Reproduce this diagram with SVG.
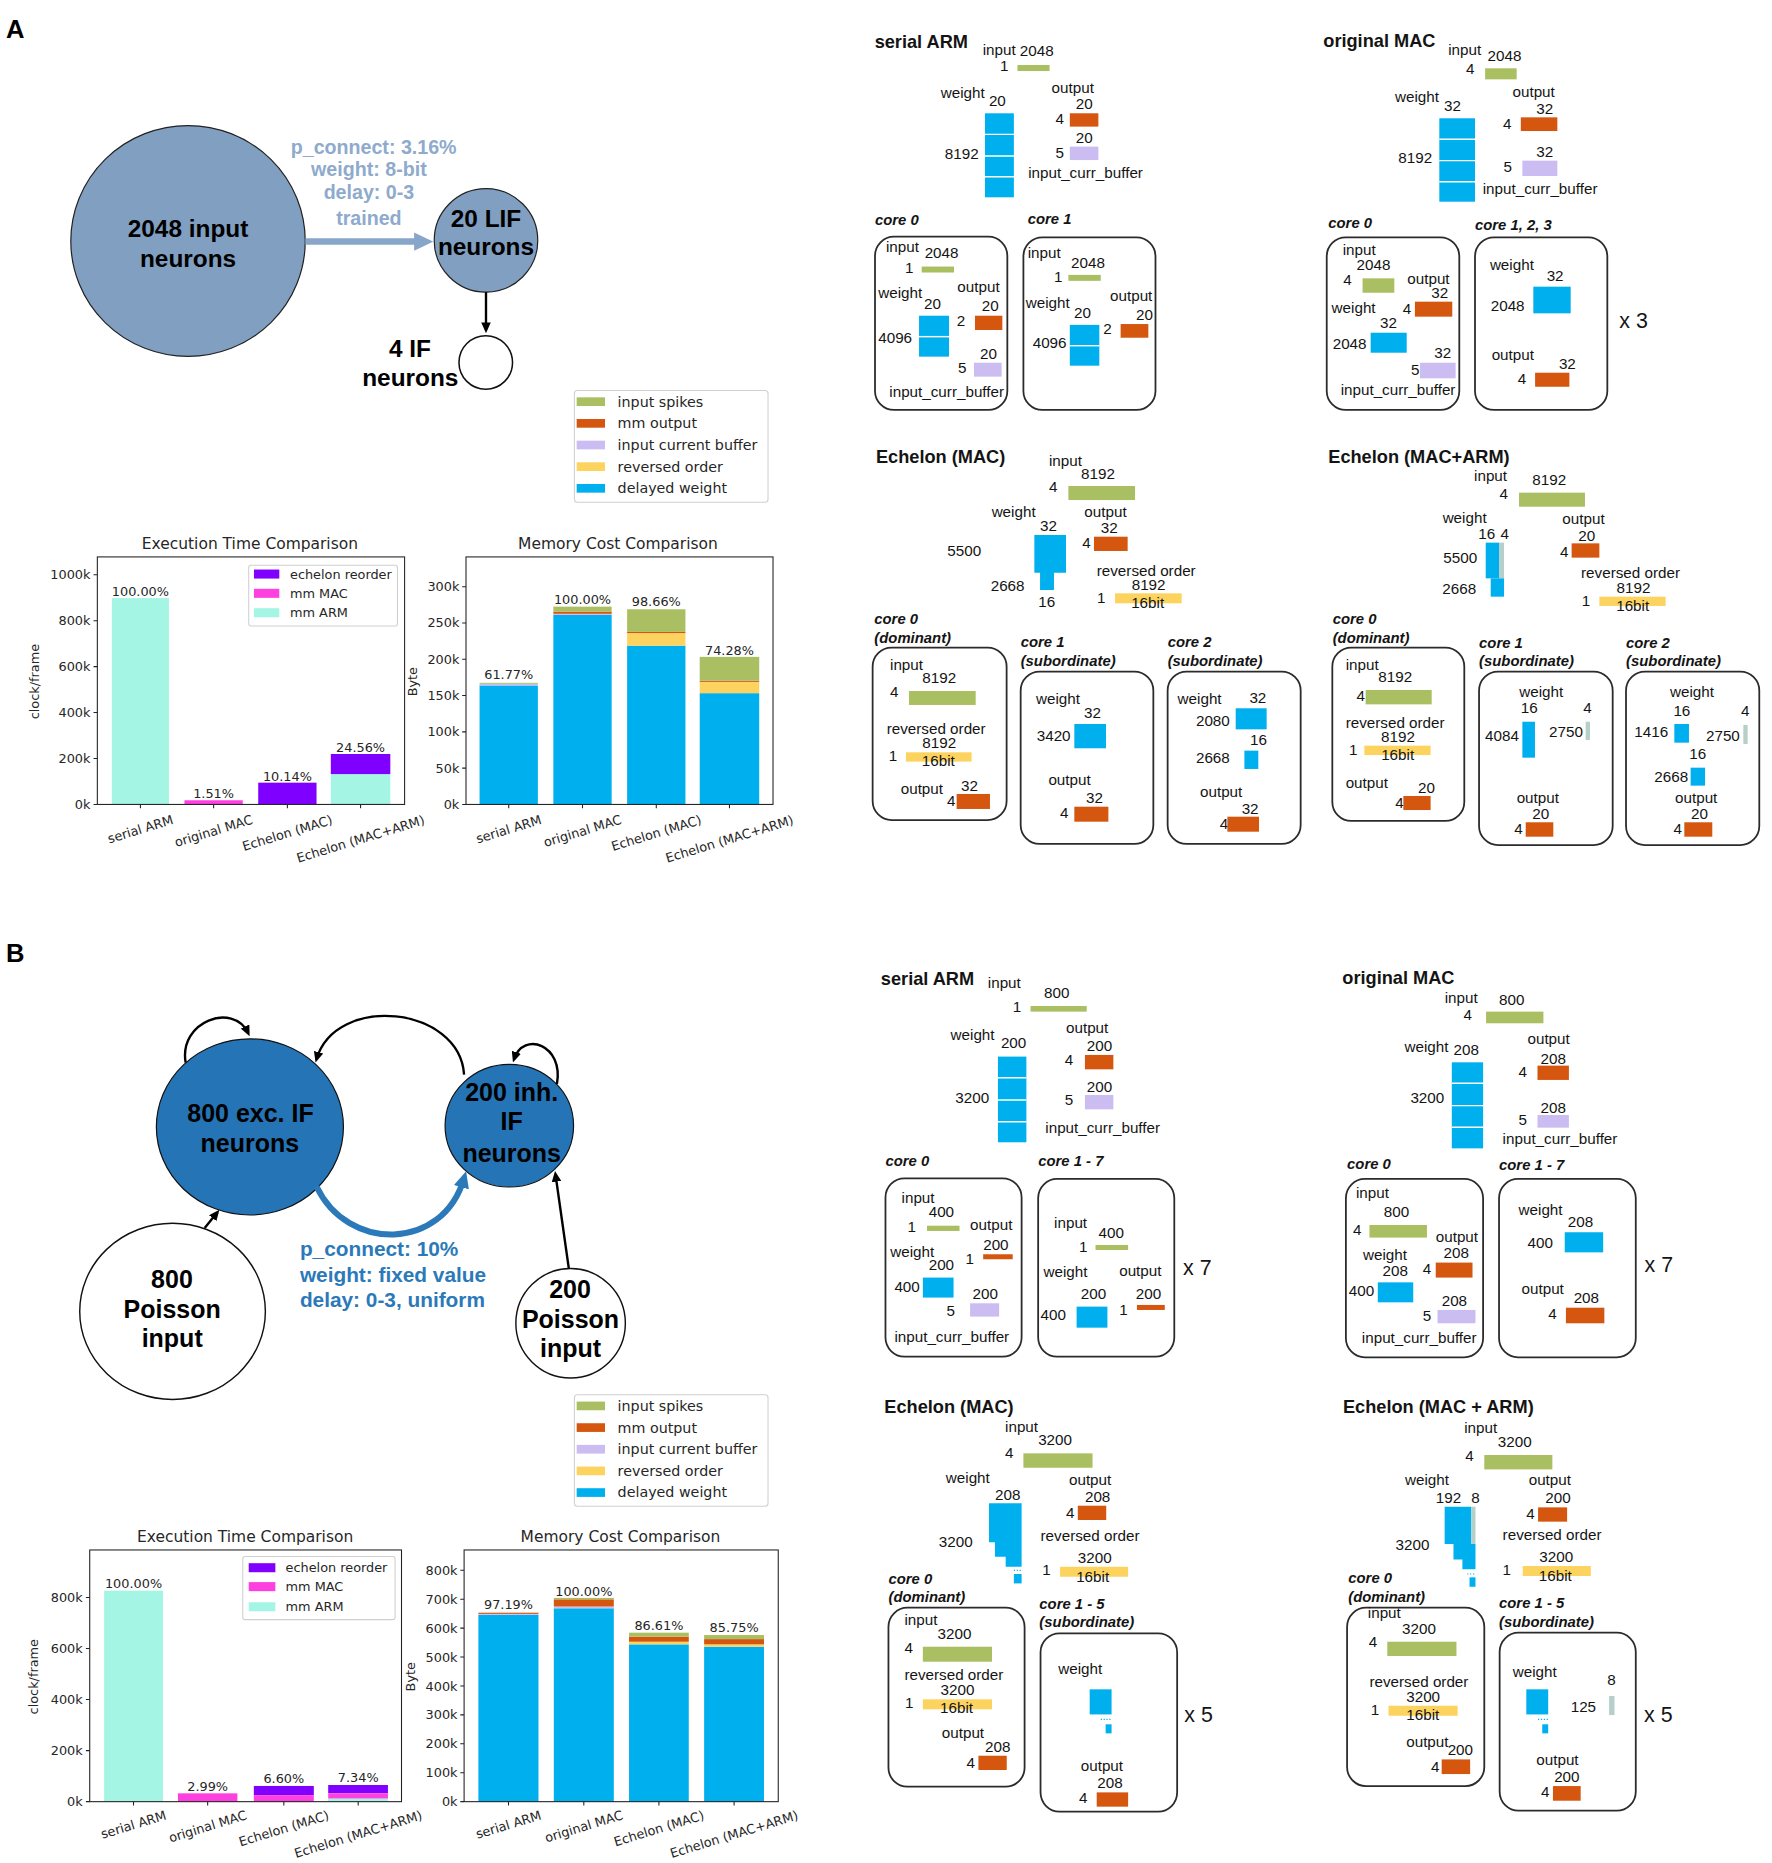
<svg xmlns="http://www.w3.org/2000/svg" width="1772" height="1863" viewBox="0 0 1772 1863">
<style>
text{font-family:"Liberation Sans",Arial,sans-serif;fill:#141414}
.t{font-size:12.8px}
.h{font-size:15.3px;font-weight:bold}
.c{font-size:12.5px;font-weight:bold;font-style:italic}
.x{font-size:18px}
.mid{text-anchor:middle}
.end{text-anchor:end}
.n{font-size:20.5px;font-weight:bold;text-anchor:middle;fill:#000}
.nb{font-size:21px;font-weight:bold;text-anchor:middle;fill:#000}
.pa{font-size:16.5px;font-weight:bold;text-anchor:middle;fill:#8eaacc}
.pb{font-size:17.5px;font-weight:bold;fill:#2b79b9}
.L{font-size:21.5px;font-weight:bold;fill:#000}
.m{font-family:"DejaVu Sans",sans-serif;font-size:10.8px;fill:#262626}
.mt{font-family:"DejaVu Sans",sans-serif;font-size:13px;fill:#262626;text-anchor:middle}
.lg{font-family:"DejaVu Sans",sans-serif;font-size:12px;fill:#262626}
.g{fill:#a9bf62}.o{fill:#d4560f}.l{fill:#cbbcf2}.y{fill:#fdd35f}.b{fill:#00b0ee}.gr{fill:#b6cfc9}
.aq{fill:#a5f5e5}.mg{fill:#ff40e0}.vi{fill:#7f00ff}
.box{fill:none;stroke:#2b2b2b;stroke-width:1.5}
.ax{fill:none;stroke:#222;stroke-width:0.9}
.tk{stroke:#222;stroke-width:0.9}
.lgbox{fill:#fff;stroke:#d0d0d0;stroke-width:0.9}
.sep{stroke:#fff;stroke-width:1.2}
.dot{stroke:#00b0ee;stroke-width:1;stroke-dasharray:1 1.4}
.k{fill:none;stroke:#000;stroke-width:2}
</style>
<defs>
<marker id="ahA" markerWidth="16" markerHeight="15.4" refX="4" refY="7.7" orient="auto" markerUnits="userSpaceOnUse"><path d="M0,0 L16,7.7 L0,15.4 z" fill="#87a6c9"/></marker>
<marker id="ahK" markerWidth="9" markerHeight="8" refX="6" refY="4" orient="auto" markerUnits="userSpaceOnUse"><path d="M0,0 L9,4 L0,8 z" fill="#000"/></marker>
<marker id="ahB" markerWidth="14" markerHeight="13" refX="8" refY="6.5" orient="auto" markerUnits="userSpaceOnUse"><path d="M0,0 L14,6.5 L0,13 z" fill="#2b79b9"/></marker>
</defs>
<rect width="1772" height="1863" fill="#fff"/>
<g transform="scale(1.19)">

<!-- ============ PANEL A : network ============ -->
<text class="L" x="5" y="32">A</text>
<g id="a-input">
<ellipse cx="158" cy="202.5" rx="98.5" ry="97" fill="#819fc1" stroke="#222" stroke-width="1"/>
<text class="n" x="158" y="199.4">2048 input</text>
<text class="n" x="158" y="224">neurons</text>
</g>
<g id="a-lif">
<circle cx="408.4" cy="202" r="43.5" fill="#819fc1" stroke="#222" stroke-width="1"/>
<text class="n" x="408.4" y="190.5">20 LIF</text>
<text class="n" x="408.4" y="214.3">neurons</text>
</g>
<g id="a-if">
<circle cx="408.2" cy="304.6" r="22.5" fill="#fff" stroke="#111" stroke-width="1.3"/>
<text class="n" x="344.5" y="299.7">4 IF</text>
<text class="n" x="344.8" y="324.1">neurons</text>
</g>
<g id="a-syn-label">
<text class="pa" x="314" y="129.4">p_connect: 3.16%</text>
<text class="pa" x="310" y="147.9">weight: 8-bit</text>
<text class="pa" x="310" y="167.5">delay: 0-3</text>
<text class="pa" x="310" y="189">trained</text>
</g>

<!-- ============ PANEL B : network ============ -->
<text class="L" x="5" y="808">B</text>
<g id="b-exc">
<ellipse cx="210" cy="947" rx="78.6" ry="74" fill="#2474b6" stroke="#111" stroke-width="1"/>
<text class="nb" x="210.5" y="942.6">800 exc. IF</text>
<text class="nb" x="210" y="967.8">neurons</text>
</g>
<g id="b-inh">
<ellipse cx="428" cy="946" rx="54" ry="51.5" fill="#2474b6" stroke="#111" stroke-width="1"/>
<text class="nb" x="430" y="925.2">200 inh.</text>
<text class="nb" x="430" y="949.6">IF</text>
<text class="nb" x="430" y="976.2">neurons</text>
</g>
<g id="b-p800">
<ellipse cx="145" cy="1102" rx="78" ry="74" fill="#fff" stroke="#111" stroke-width="1.2"/>
<text class="nb" x="144.5" y="1082">800</text>
<text class="nb" x="144.7" y="1107.8">Poisson</text>
<text class="nb" x="144.7" y="1131.7">input</text>
</g>
<g id="b-p200">
<ellipse cx="479.5" cy="1112" rx="46" ry="46" fill="#fff" stroke="#111" stroke-width="1.2"/>
<text class="nb" x="479" y="1091">200</text>
<text class="nb" x="479.4" y="1116.2">Poisson</text>
<text class="nb" x="479.4" y="1140">input</text>
</g>
<g id="b-syn-label">
<text class="pb" x="252" y="1055.5">p_connect: 10%</text>
<text class="pb" x="252" y="1077">weight: fixed value</text>
<text class="pb" x="252" y="1098.6">delay: 0-3, uniform</text>
</g>

<!-- ============ CONNECTORS ============ -->
<g id="connectors">
<path d="M256.6,203 H352" stroke="#87a6c9" stroke-width="5.5" fill="none" marker-end="url(#ahA)"/>
<path class="k" d="M408.4,245.5 V277" marker-end="url(#ahK)"/>
<path class="k" d="M156,893 C150,858 196,842 208.5,868" marker-end="url(#ahK)"/>
<path class="k" d="M390,903 C386,845 282,835 266,890" marker-end="url(#ahK)"/>
<path class="k" d="M468,911 C474,878 440,866 432,890" marker-end="url(#ahK)"/>
<path class="k" d="M172,1032 L182.5,1019" marker-end="url(#ahK)"/>
<path class="k" d="M478,1066 L466.8,987" marker-end="url(#ahK)"/>
<path d="M266,997 C292,1052 372,1052 390,990" stroke="#2b79b9" stroke-width="5" fill="none" marker-end="url(#ahB)"/>
</g>

<!-- ============ LEGENDS ============ -->
<g id="a-legend">
<rect class="lgbox" x="482.7" y="328.2" width="162.7" height="93.8" rx="2.5"/>
<rect class="g" x="484.6" y="333.9" width="23.8" height="7.3"/><text class="lg" x="519" y="341.7">input spikes</text>
<rect class="o" x="484.6" y="352.1" width="23.8" height="7.3"/><text class="lg" x="519" y="359.9">mm output</text>
<rect class="l" x="484.6" y="370.3" width="23.8" height="7.3"/><text class="lg" x="519" y="378.1">input current buffer</text>
<rect class="y" x="484.6" y="388.5" width="23.8" height="7.3"/><text class="lg" x="519" y="396.3">reversed order</text>
<rect class="b" x="484.6" y="406.7" width="23.8" height="7.3"/><text class="lg" x="519" y="414.5">delayed weight</text>
</g>
<g id="b-legend">
<rect class="lgbox" x="482.7" y="1172" width="162.7" height="93.8" rx="2.5"/>
<rect class="g" x="484.6" y="1177.8" width="23.8" height="7.3"/><text class="lg" x="519" y="1185.6">input spikes</text>
<rect class="o" x="484.6" y="1196" width="23.8" height="7.3"/><text class="lg" x="519" y="1203.8">mm output</text>
<rect class="l" x="484.6" y="1214.2" width="23.8" height="7.3"/><text class="lg" x="519" y="1222">input current buffer</text>
<rect class="y" x="484.6" y="1232.4" width="23.8" height="7.3"/><text class="lg" x="519" y="1240.2">reversed order</text>
<rect class="b" x="484.6" y="1250.6" width="23.8" height="7.3"/><text class="lg" x="519" y="1258.4">delayed weight</text>
</g>

<!-- ============ CHART A exec ============ -->
<g id="a-exec-chart">
<text class="mt" x="210" y="461.6">Execution Time Comparison</text>
<rect class="aq" x="94" y="502.6" width="48" height="173.4"/>
<rect class="mg" x="155" y="672.5" width="49" height="3.5"/>
<rect class="vi" x="217" y="657.7" width="49" height="18.3"/>
<rect class="aq" x="278" y="650.5" width="50" height="25.5"/>
<rect class="vi" x="278" y="633.6" width="50" height="16.9"/>
<rect class="ax" x="81.8" y="468" width="258.2" height="208"/>
<path class="tk" d="M78.6,676H81.8M78.6,637.4H81.8M78.6,598.8H81.8M78.6,560.2H81.8M78.6,521.6H81.8M78.6,483H81.8M118,676V679.2M179.5,676V679.2M241.5,676V679.2M303,676V679.2"/>
<text class="m end" x="76" y="679.8">0k</text>
<text class="m end" x="76" y="641.2">200k</text>
<text class="m end" x="76" y="602.6">400k</text>
<text class="m end" x="76" y="564">600k</text>
<text class="m end" x="76" y="525.4">800k</text>
<text class="m end" x="76" y="486.8">1000k</text>
<text class="m mid" x="118" y="500.8">100.00%</text>
<text class="m mid" x="179.5" y="670.9">1.51%</text>
<text class="m mid" x="241.5" y="656.3">10.14%</text>
<text class="m mid" x="303" y="631.7">24.56%</text>
<text class="m mid" transform="rotate(-90 29.4 572.8)" x="29.4" y="576.6">clock/frame</text>
<text class="m mid" transform="rotate(-17 118 696.8)" x="118" y="700.6">serial ARM</text>
<text class="m mid" transform="rotate(-17 179.5 698.3)" x="179.5" y="702.1">original MAC</text>
<text class="m mid" transform="rotate(-17 241.5 700)" x="241.5" y="703.8">Echelon (MAC)</text>
<text class="m mid" transform="rotate(-17 303 705)" x="303" y="708.8">Echelon (MAC+ARM)</text>
<rect class="lgbox" x="209" y="475" width="125" height="51" rx="2"/>
<rect class="vi" x="213.4" y="478.6" width="21.3" height="7.6"/><text class="m" x="243.7" y="486.3">echelon reorder</text>
<rect class="mg" x="213.4" y="494.8" width="21.3" height="7.6"/><text class="m" x="243.7" y="502.5">mm MAC</text>
<rect class="aq" x="213.4" y="511.1" width="21.3" height="7.6"/><text class="m" x="243.7" y="518.8">mm ARM</text>
</g>

<!-- ============ CHART A memory ============ -->
<g id="a-mem-chart">
<text class="mt" x="519.3" y="461.6">Memory Cost Comparison</text>
<rect class="b" x="403" y="576" width="49" height="100"/>
<rect class="l" x="403" y="574.6" width="49" height="1.4"/>
<rect class="g" x="403" y="573.8" width="49" height="0.8"/>
<rect class="b" x="465" y="516.8" width="49" height="159.2"/>
<rect class="l" x="465" y="515.8" width="49" height="1"/>
<rect class="o" x="465" y="514" width="49" height="1.8"/>
<rect class="g" x="465" y="509.8" width="49" height="4.2"/>
<rect class="b" x="527" y="542.6" width="49" height="133.4"/>
<rect class="y" x="527" y="532" width="49" height="10.6"/>
<rect class="o" x="527" y="531" width="49" height="1"/>
<rect class="g" x="527" y="512" width="49" height="19"/>
<rect class="b" x="588" y="582.5" width="50" height="93.5"/>
<rect class="y" x="588" y="573" width="50" height="9.5"/>
<rect class="o" x="588" y="572" width="50" height="1"/>
<rect class="g" x="588" y="552" width="50" height="20"/>
<rect class="ax" x="391.6" y="468" width="258" height="208"/>
<path class="tk" d="M388.4,676H391.6M388.4,645.5H391.6M388.4,615H391.6M388.4,584.5H391.6M388.4,554H391.6M388.4,523.5H391.6M388.4,493H391.6M427.5,676V679.2M489.5,676V679.2M551.5,676V679.2M613,676V679.2"/>
<text class="m end" x="386" y="679.8">0k</text>
<text class="m end" x="386" y="649.3">50k</text>
<text class="m end" x="386" y="618.8">100k</text>
<text class="m end" x="386" y="588.3">150k</text>
<text class="m end" x="386" y="557.8">200k</text>
<text class="m end" x="386" y="527.3">250k</text>
<text class="m end" x="386" y="496.8">300k</text>
<text class="m mid" x="427.5" y="570.9">61.77%</text>
<text class="m mid" x="489.5" y="507.5">100.00%</text>
<text class="m mid" x="551.5" y="509.3">98.66%</text>
<text class="m mid" x="613" y="550">74.28%</text>
<text class="m mid" transform="rotate(-90 346.5 572.8)" x="346.5" y="576.6">Byte</text>
<text class="m mid" transform="rotate(-17 427.5 696.8)" x="427.5" y="700.6">serial ARM</text>
<text class="m mid" transform="rotate(-17 489.5 698.3)" x="489.5" y="702.1">original MAC</text>
<text class="m mid" transform="rotate(-17 551.5 700)" x="551.5" y="703.8">Echelon (MAC)</text>
<text class="m mid" transform="rotate(-17 613 705)" x="613" y="708.8">Echelon (MAC+ARM)</text>
</g>

<!-- ============ CHART B exec ============ -->
<g id="b-exec-chart">
<text class="mt" x="206" y="1295.5">Execution Time Comparison</text>
<rect class="aq" x="87.5" y="1336.7" width="49.5" height="177.3"/>
<rect class="mg" x="149.5" y="1507" width="50" height="7"/>
<rect class="vi" x="213.3" y="1500.8" width="50.4" height="7.7"/>
<rect class="mg" x="213.3" y="1508.5" width="50.4" height="5.5"/>
<rect class="vi" x="275.8" y="1500" width="50.2" height="7"/>
<rect class="mg" x="275.8" y="1507" width="50.2" height="4.5"/>
<rect class="aq" x="275.8" y="1511.5" width="50.2" height="2.5"/>
<rect class="ax" x="75.4" y="1302.5" width="262" height="211.5"/>
<path class="tk" d="M72.2,1514H75.4M72.2,1471.1H75.4M72.2,1428.2H75.4M72.2,1385.3H75.4M72.2,1342.4H75.4M112.2,1514V1517.2M174.5,1514V1517.2M238.5,1514V1517.2M301,1514V1517.2"/>
<text class="m end" x="69.5" y="1517.8">0k</text>
<text class="m end" x="69.5" y="1474.9">200k</text>
<text class="m end" x="69.5" y="1432">400k</text>
<text class="m end" x="69.5" y="1389.1">600k</text>
<text class="m end" x="69.5" y="1346.2">800k</text>
<text class="m mid" x="112.2" y="1334.5">100.00%</text>
<text class="m mid" x="174.5" y="1505">2.99%</text>
<text class="m mid" x="238.5" y="1498">6.60%</text>
<text class="m mid" x="301" y="1497.2">7.34%</text>
<text class="m mid" transform="rotate(-90 28 1409)" x="28" y="1412.8">clock/frame</text>
<text class="m mid" transform="rotate(-17 112.2 1533.3)" x="112.2" y="1537.1">serial ARM</text>
<text class="m mid" transform="rotate(-17 174.5 1534.8)" x="174.5" y="1538.6">original MAC</text>
<text class="m mid" transform="rotate(-17 238.5 1536.5)" x="238.5" y="1540.3">Echelon (MAC)</text>
<text class="m mid" transform="rotate(-17 301 1541.4)" x="301" y="1545.2">Echelon (MAC+ARM)</text>
<rect class="lgbox" x="204" y="1308" width="128" height="53" rx="2"/>
<rect class="vi" x="209" y="1313.6" width="22.4" height="7.6"/><text class="m" x="240" y="1321.3">echelon reorder</text>
<rect class="mg" x="209" y="1329.5" width="22.4" height="7.6"/><text class="m" x="240" y="1337.2">mm MAC</text>
<rect class="aq" x="209" y="1346.4" width="22.4" height="7.6"/><text class="m" x="240" y="1354.1">mm ARM</text>
</g>

<!-- ============ CHART B memory ============ -->
<g id="b-mem-chart">
<text class="mt" x="521.4" y="1295.5">Memory Cost Comparison</text>
<rect class="b" x="402" y="1357" width="50.5" height="157"/>
<rect class="l" x="402" y="1356.2" width="50.5" height="0.8"/>
<rect class="o" x="402" y="1355.2" width="50.5" height="1"/>
<rect class="b" x="465.4" y="1351.5" width="50.4" height="162.5"/>
<rect class="l" x="465.4" y="1350" width="50.4" height="1.5"/>
<rect class="o" x="465.4" y="1344" width="50.4" height="6"/>
<rect class="g" x="465.4" y="1342.8" width="50.4" height="1.2"/>
<rect class="b" x="528.6" y="1381.8" width="50.2" height="132.2"/>
<rect class="y" x="528.6" y="1379.6" width="50.2" height="2.2"/>
<rect class="o" x="528.6" y="1375.4" width="50.2" height="4.2"/>
<rect class="g" x="528.6" y="1372" width="50.2" height="3.4"/>
<rect class="b" x="591.7" y="1383.8" width="50.3" height="130.2"/>
<rect class="y" x="591.7" y="1381.8" width="50.3" height="2"/>
<rect class="o" x="591.7" y="1377.4" width="50.3" height="4.4"/>
<rect class="g" x="591.7" y="1374" width="50.3" height="3.4"/>
<rect class="ax" x="390" y="1302.5" width="264" height="211.5"/>
<path class="tk" d="M386.8,1514H390M386.8,1489.7H390M386.8,1465.4H390M386.8,1441.1H390M386.8,1416.8H390M386.8,1392.5H390M386.8,1368.2H390M386.8,1343.9H390M386.8,1319.6H390M427.3,1514V1517.2M490.6,1514V1517.2M553.7,1514V1517.2M616.9,1514V1517.2"/>
<text class="m end" x="384.5" y="1517.8">0k</text>
<text class="m end" x="384.5" y="1493.5">100k</text>
<text class="m end" x="384.5" y="1469.2">200k</text>
<text class="m end" x="384.5" y="1444.9">300k</text>
<text class="m end" x="384.5" y="1420.6">400k</text>
<text class="m end" x="384.5" y="1396.3">500k</text>
<text class="m end" x="384.5" y="1372">600k</text>
<text class="m end" x="384.5" y="1347.7">700k</text>
<text class="m end" x="384.5" y="1323.4">800k</text>
<text class="m mid" x="427.3" y="1352.4">97.19%</text>
<text class="m mid" x="490.6" y="1341.2">100.00%</text>
<text class="m mid" x="553.7" y="1369.7">86.61%</text>
<text class="m mid" x="616.9" y="1371.7">85.75%</text>
<text class="m mid" transform="rotate(-90 344.7 1409)" x="344.7" y="1412.8">Byte</text>
<text class="m mid" transform="rotate(-17 427.3 1533.3)" x="427.3" y="1537.1">serial ARM</text>
<text class="m mid" transform="rotate(-17 490.6 1534.8)" x="490.6" y="1538.6">original MAC</text>
<text class="m mid" transform="rotate(-17 553.7 1536.5)" x="553.7" y="1540.3">Echelon (MAC)</text>
<text class="m mid" transform="rotate(-17 616.9 1541.4)" x="616.9" y="1545.2">Echelon (MAC+ARM)</text>
</g>

<!-- ============ A right: serial ARM ============ -->
<g id="a-serial-arm">
<text class="h" x="735" y="40.7">serial ARM</text>
<text class="t" x="825.8" y="46.2">input</text><text class="t" x="857" y="47">2048</text>
<text class="t" x="840.3" y="60">1</text><rect class="g" x="855" y="54.6" width="27" height="5.1"/>
<text class="t" x="790.5" y="82.6">weight</text><text class="t" x="831" y="89">20</text>
<text class="t" x="883.7" y="78">output</text><text class="t" x="904" y="91.9">20</text>
<text class="t" x="887" y="104">4</text><rect class="o" x="899" y="95.2" width="24" height="11.2"/>
<text class="t" x="904" y="120.4">20</text>
<text class="t" x="887" y="133">5</text><rect class="l" x="899" y="123.2" width="24" height="11.3"/>
<text class="t" x="864" y="149.9">input_curr_buffer</text>
<text class="t" x="794" y="133.9">8192</text>
<rect class="b" x="827.7" y="95.2" width="24.3" height="70.6"/>
<path class="sep" d="M827.7,112.9H852M827.7,131.1H852M827.7,148.5H852"/>
</g>
<g id="a-serial-core0">
<text class="c" x="735.3" y="189">core 0</text>
<rect class="box" x="735.3" y="198.9" width="111.2" height="145.6" rx="16"/>
<text class="t" x="744.5" y="212">input</text><text class="t" x="777" y="217">2048</text>
<text class="t" x="760.5" y="229.7">1</text><rect class="g" x="774.5" y="224" width="27.2" height="5"/>
<text class="t" x="738" y="250">weight</text><text class="t" x="776.5" y="260">20</text>
<text class="t" x="804.5" y="245">output</text><text class="t" x="825" y="261">20</text>
<text class="t" x="804" y="274">2</text><rect class="o" x="819.3" y="265.3" width="23" height="12"/>
<text class="t" x="738" y="288.5">4096</text>
<rect class="b" x="772.3" y="265.3" width="25.2" height="34.4"/><path class="sep" d="M772.3,282.9H797.5"/>
<text class="t" x="823.5" y="302">20</text>
<text class="t" x="805" y="313.7">5</text><rect class="l" x="818.5" y="304.8" width="23.2" height="11.7"/>
<text class="t" x="747.3" y="333.4">input_curr_buffer</text>
</g>
<g id="a-serial-core1">
<text class="c" x="863.6" y="188">core 1</text>
<rect class="box" x="860" y="199.4" width="111" height="145.1" rx="16"/>
<text class="t" x="863.6" y="217">input</text><text class="t" x="900" y="225">2048</text>
<text class="t" x="885.7" y="236.7">1</text><rect class="g" x="897.8" y="231" width="27.2" height="5"/>
<text class="t" x="862" y="259">weight</text><text class="t" x="902.6" y="267.5">20</text>
<text class="t" x="932.8" y="253">output</text><text class="t" x="954.6" y="269">20</text>
<text class="t" x="927" y="281">2</text><rect class="o" x="941.7" y="272.3" width="23.3" height="11.5"/>
<text class="t" x="867.8" y="292.7">4096</text>
<rect class="b" x="899" y="273" width="24.8" height="34.3"/><path class="sep" d="M899,290.5H923.8"/>
</g>

<!-- ============ A right: original MAC ============ -->
<g id="a-orig-mac">
<text class="h" x="1112" y="39.2">original MAC</text>
<text class="t" x="1217" y="46.2">input</text><text class="t" x="1250" y="51.3">2048</text>
<text class="t" x="1232" y="62.2">4</text><rect class="g" x="1248" y="57.4" width="26.5" height="9.3"/>
<text class="t" x="1172.3" y="85.5">weight</text><text class="t" x="1213.4" y="93.3">32</text>
<text class="t" x="1271" y="81.2">output</text><text class="t" x="1291" y="95.8">32</text>
<text class="t" x="1263" y="108.4">4</text><rect class="o" x="1278" y="98.6" width="30.7" height="11.5"/>
<text class="t" x="1291" y="131.7">32</text>
<text class="t" x="1263.5" y="144.3">5</text><rect class="l" x="1279.3" y="135" width="29.4" height="12.9"/>
<text class="t" x="1246" y="163.3">input_curr_buffer</text>
<text class="t" x="1175" y="137.2">8192</text>
<rect class="b" x="1209.5" y="99.4" width="30" height="70.1"/>
<path class="sep" d="M1209.5,117H1239.5M1209.5,135H1239.5M1209.5,152.7H1239.5"/>
</g>
<g id="a-orig-core0">
<text class="c" x="1116.2" y="191.3">core 0</text>
<rect class="box" x="1114.9" y="199.4" width="111.4" height="145.1" rx="16"/>
<text class="t" x="1128.3" y="214.3">input</text><text class="t" x="1140" y="226.9">2048</text>
<text class="t" x="1128.8" y="239.5">4</text><rect class="g" x="1145" y="233.9" width="26.7" height="12.1"/>
<text class="t" x="1182.6" y="238.7">output</text><text class="t" x="1202.8" y="250.7">32</text>
<text class="t" x="1119" y="263.3">weight</text>
<text class="t" x="1178.7" y="264.1">4</text><rect class="o" x="1189" y="253.5" width="31.4" height="12.6"/>
<text class="t" x="1159.7" y="275.4">32</text>
<text class="t" x="1119.9" y="293.3">2048</text><rect class="b" x="1151.8" y="279.6" width="30.3" height="16.8"/>
<text class="t" x="1205.3" y="301.1">32</text>
<text class="t" x="1185.7" y="315.1">5</text><rect class="l" x="1193.3" y="304.8" width="29.9" height="13.1"/>
<text class="t" x="1126.6" y="332">input_curr_buffer</text>
</g>
<g id="a-orig-core123">
<text class="c" x="1239.5" y="193.3">core 1, 2, 3</text>
<rect class="box" x="1239.5" y="199.4" width="111.2" height="145.1" rx="16"/>
<text class="t" x="1252" y="226.9">weight</text><text class="t" x="1299.7" y="236.1">32</text>
<text class="t" x="1252.7" y="261.1">2048</text><rect class="b" x="1288.5" y="240.9" width="31.4" height="22.4"/>
<text class="t" x="1253.5" y="302.5">output</text><text class="t" x="1310" y="310.4">32</text>
<text class="t" x="1275.4" y="323">4</text><rect class="o" x="1290" y="313.2" width="28.8" height="11.8"/>
<text class="x" x="1360.8" y="275.9">x 3</text>
</g>

<!-- ============ A right: Echelon (MAC) ============ -->
<g id="a-ech-mac">
<text class="h" x="736.1" y="389.4">Echelon (MAC)</text>
<text class="t" x="881.5" y="391.3">input</text><text class="t" x="908.4" y="402.5">8192</text>
<text class="t" x="881.5" y="413.7">4</text><rect class="g" x="897.8" y="408.4" width="56" height="11.8"/>
<text class="t" x="833.3" y="434.2">weight</text><text class="t" x="874" y="446.2">32</text>
<text class="t" x="911.2" y="434.2">output</text><text class="t" x="925" y="448.2">32</text>
<text class="t" x="909.5" y="460.8">4</text><rect class="o" x="919.3" y="451" width="28.3" height="12"/>
<text class="t" x="796" y="467.2">5500</text>
<path class="b" d="M869.2,449.6H895.8V481.2H885.7V495.8H874V481.2H869.2Z"/>
<text class="t" x="832.5" y="496.4">2668</text><text class="t" x="872.5" y="509.8">16</text>
<text class="t" x="921.6" y="484">reversed order</text><text class="t" x="951" y="495.8">8192</text>
<text class="t" x="921.8" y="507">1</text><rect class="y" x="937" y="498.6" width="56" height="8.4"/>
<text class="t mid" x="964.4" y="511.2">16bit</text>
</g>
<g id="a-ech-mac-core0">
<text class="c" x="734.7" y="524.4">core 0</text><text class="c" x="734.7" y="540">(dominant)</text>
<rect class="box" x="733.3" y="544.2" width="112.6" height="144.9" rx="16"/>
<text class="t" x="747.9" y="563">input</text><text class="t" x="775" y="574.2">8192</text>
<text class="t" x="747.9" y="585.4">4</text><rect class="g" x="763.9" y="580.7" width="56" height="11.7"/>
<text class="t" x="745.1" y="616.8">reversed order</text><text class="t" x="775" y="628.8">8192</text>
<text class="t" x="746.8" y="639.2">1</text><rect class="y" x="761.3" y="632.2" width="55.2" height="7.8"/>
<text class="t mid" x="788.5" y="643.7">16bit</text>
<text class="t" x="756.9" y="667.2">output</text><text class="t" x="807.6" y="664.4">32</text>
<text class="t" x="795.8" y="677">4</text><rect class="o" x="803.9" y="667.2" width="28" height="12.6"/>
</g>
<g id="a-ech-mac-core1">
<text class="c" x="857.7" y="544">core 1</text><text class="c" x="857.7" y="559.7">(subordinate)</text>
<rect class="box" x="857.7" y="564.4" width="111.5" height="144.8" rx="16"/>
<text class="t" x="870.6" y="591.6">weight</text><text class="t" x="911" y="603.1">32</text>
<text class="t" x="871.2" y="622.4">3420</text><rect class="b" x="902.8" y="608.4" width="26.6" height="20.4"/>
<text class="t" x="881" y="659.7">output</text><text class="t" x="912.6" y="675.1">32</text>
<text class="t" x="890.8" y="687.7">4</text><rect class="o" x="902.8" y="677.9" width="28.6" height="12.6"/>
</g>
<g id="a-ech-mac-core2">
<text class="c" x="981.2" y="544">core 2</text><text class="c" x="981.2" y="559.7">(subordinate)</text>
<rect class="box" x="981.2" y="564.4" width="111.8" height="144.8" rx="16"/>
<text class="t" x="989.6" y="591.6">weight</text><text class="t" x="1049.9" y="590.5">32</text>
<text class="t" x="1005" y="610.1">2080</text><rect class="b" x="1038.4" y="595.2" width="26" height="17.7"/>
<text class="t" x="1050.4" y="626">16</text>
<text class="t" x="1005" y="641.5">2668</text><rect class="b" x="1045.7" y="630.8" width="11.7" height="15.4"/>
<text class="t" x="1008.4" y="669.5">output</text><text class="t" x="1043.4" y="684">32</text>
<text class="t" x="1024.9" y="696.9">4</text><rect class="o" x="1031.4" y="686.3" width="26.6" height="12.6"/>
</g>

<!-- ============ A right: Echelon (MAC+ARM) ============ -->
<g id="a-ech-arm">
<text class="h" x="1116.2" y="389.4">Echelon (MAC+ARM)</text>
<text class="t" x="1238.7" y="404.2">input</text><text class="t" x="1287.7" y="407.6">8192</text>
<text class="t" x="1260" y="419.3">4</text><rect class="g" x="1276.5" y="414" width="55.4" height="11.8"/>
<text class="t" x="1212.3" y="439.2">weight</text><text class="t" x="1242.3" y="453.2">16</text><text class="t" x="1261" y="453.2">4</text>
<rect class="b" x="1248.5" y="456" width="11.2" height="30"/>
<rect class="gr" x="1259.7" y="456" width="4.2" height="30"/>
<rect class="b" x="1252.7" y="486" width="11.2" height="15.4"/>
<text class="t" x="1212.9" y="472.8">5500</text><text class="t" x="1212" y="499.2">2668</text>
<text class="t" x="1312.9" y="440.3">output</text><text class="t" x="1326.3" y="454.4">20</text>
<text class="t" x="1311" y="467.8">4</text><rect class="o" x="1320.7" y="456.6" width="23.3" height="12"/>
<text class="t" x="1328.6" y="486">reversed order</text><text class="t" x="1358.5" y="498.6">8192</text>
<text class="t" x="1329.1" y="509.2">1</text><rect class="y" x="1344" y="501.4" width="55.7" height="7.8"/>
<text class="t mid" x="1372" y="513.2">16bit</text>
</g>
<g id="a-ech-arm-core0">
<text class="c" x="1119.9" y="524.6">core 0</text><text class="c" x="1119.9" y="540">(dominant)</text>
<rect class="box" x="1119.6" y="544.2" width="110.9" height="145.7" rx="16"/>
<text class="t" x="1130.8" y="563">input</text><text class="t" x="1158.2" y="573.4">8192</text>
<text class="t" x="1140" y="589.1">4</text><rect class="g" x="1147.6" y="579.8" width="55.5" height="12.1"/>
<text class="t" x="1130.8" y="611.5">reversed order</text><text class="t" x="1160.5" y="623.8">8192</text>
<text class="t" x="1133.6" y="634.5">1</text><rect class="y" x="1146.5" y="626.6" width="55.7" height="7.9"/>
<text class="t mid" x="1174.5" y="638.7">16bit</text>
<text class="t" x="1130.8" y="661.9">output</text><text class="t" x="1191.6" y="666.1">20</text>
<text class="t" x="1172.5" y="679.3">4</text><rect class="o" x="1179.3" y="668.9" width="22.9" height="11.8"/>
</g>
<g id="a-ech-arm-core1">
<text class="c" x="1242.9" y="544.3">core 1</text><text class="c" x="1242.9" y="559.7">(subordinate)</text>
<rect class="box" x="1242.9" y="564.4" width="112.3" height="145.7" rx="16"/>
<text class="t" x="1276.7" y="586">weight</text><text class="t" x="1277.9" y="598.9">16</text><text class="t" x="1330.5" y="598.9">4</text>
<rect class="b" x="1279.3" y="606.5" width="10.6" height="30.2"/>
<rect class="gr" x="1332.5" y="606.5" width="3.6" height="15.3"/>
<text class="t" x="1247.9" y="622.4">4084</text><text class="t" x="1301.7" y="619.6">2750</text>
<text class="t" x="1274.5" y="674.5">output</text><text class="t" x="1287.7" y="688.5">20</text>
<text class="t" x="1272.5" y="700.8">4</text><rect class="o" x="1282.1" y="691" width="23.2" height="12.1"/>
</g>
<g id="a-ech-arm-core2">
<text class="c" x="1366.4" y="544.3">core 2</text><text class="c" x="1366.4" y="559.7">(subordinate)</text>
<rect class="box" x="1366.4" y="564.4" width="112" height="145.7" rx="16"/>
<text class="t" x="1403.4" y="585.4">weight</text><text class="t" x="1406.2" y="601.7">16</text><text class="t" x="1463" y="601.7">4</text>
<text class="t" x="1373.4" y="619.6">1416</text><rect class="b" x="1407" y="608.4" width="12.3" height="15.7"/>
<text class="t" x="1433.6" y="622.4">2750</text><rect class="gr" x="1465" y="609.2" width="3.6" height="16"/>
<text class="t" x="1419.6" y="638.1">16</text>
<text class="t" x="1390.2" y="656.9">2668</text><rect class="b" x="1420.7" y="645.1" width="12.1" height="15.1"/>
<text class="t" x="1407.6" y="674.5">output</text><text class="t" x="1421" y="688.5">20</text>
<text class="t" x="1406.2" y="700.8">4</text><rect class="o" x="1415.4" y="691" width="23.5" height="12.1"/>
</g>

<!-- ============ B right: serial ARM ============ -->
<g id="b-serial-arm">
<text class="h" x="740.2" y="827.7">serial ARM</text>
<text class="t" x="830.1" y="830.5">input</text><text class="t" x="877.4" y="838.9">800</text>
<text class="t" x="851" y="850.1">1</text><rect class="g" x="866" y="845.4" width="47.2" height="4.7"/>
<text class="t" x="798.8" y="873.9">weight</text><text class="t" x="841.1" y="880.9">200</text>
<text class="t" x="895.8" y="868.3">output</text><text class="t" x="913.2" y="883.2">200</text>
<text class="t" x="894.8" y="894.9">4</text><rect class="o" x="911.7" y="886.5" width="23.9" height="12.1"/>
<text class="t" x="913.2" y="917.3">200</text>
<text class="t" x="894.8" y="928.5">5</text><rect class="l" x="911.7" y="920.2" width="23.9" height="12"/>
<text class="t" x="878.4" y="952.4">input_curr_buffer</text>
<text class="t" x="802.8" y="926.6">3200</text>
<rect class="b" x="838.6" y="887.9" width="23.9" height="72"/>
<path class="sep" d="M838.6,905.6H862.5M838.6,924.3H862.5M838.6,942.6H862.5"/>
</g>
<g id="b-serial-core0">
<text class="c" x="744.1" y="979.8">core 0</text>
<rect class="box" x="744.1" y="990.2" width="114.4" height="149.8" rx="16"/>
<text class="t" x="757.6" y="1011.2">input</text><text class="t" x="780.4" y="1022.4">400</text>
<text class="t" x="762.5" y="1035">1</text><rect class="g" x="779" y="1030" width="27.3" height="4.4"/>
<text class="t" x="815.2" y="1033.6">output</text><text class="t" x="826.2" y="1050.4">200</text>
<text class="t" x="748.1" y="1056">weight</text><text class="t" x="780.4" y="1067.2">200</text>
<text class="t" x="811.3" y="1062.2">1</text><rect class="o" x="826.2" y="1054" width="24.8" height="4.2"/>
<text class="t" x="751.6" y="1086">400</text><rect class="b" x="775.5" y="1073.6" width="25.8" height="16.8"/>
<text class="t" x="817.2" y="1091.9">200</text>
<text class="t" x="795.3" y="1105.9">5</text><rect class="l" x="815.2" y="1095.2" width="24.4" height="11.2"/>
<text class="t" x="751.6" y="1127.4">input_curr_buffer</text>
</g>
<g id="b-serial-core17">
<text class="c" x="872.4" y="979.8">core 1 - 7</text>
<rect class="box" x="872.4" y="990.7" width="114.4" height="149.3" rx="16"/>
<text class="t" x="885.8" y="1032.2">input</text><text class="t" x="923.1" y="1040">400</text>
<text class="t" x="906.7" y="1052.4">1</text><rect class="g" x="920.6" y="1046.2" width="27.4" height="4.2"/>
<text class="t" x="876.9" y="1072.8">weight</text><text class="t" x="940.5" y="1072.3">output</text>
<text class="t" x="908.2" y="1091.9">200</text><text class="t" x="954.4" y="1091.9">200</text>
<text class="t" x="874.4" y="1109.2">400</text><rect class="b" x="904.7" y="1098" width="25.9" height="17.7"/>
<text class="t" x="940.5" y="1105">1</text><rect class="o" x="955.4" y="1096.6" width="23.4" height="4.2"/>
<text class="x" x="994.2" y="1071.4">x 7</text>
</g>

<!-- ============ B right: original MAC ============ -->
<g id="b-orig-mac">
<text class="h" x="1128" y="827.2">original MAC</text>
<text class="t" x="1214" y="843.1">input</text><text class="t" x="1259.7" y="844.5">800</text>
<text class="t" x="1229.9" y="857.1">4</text><rect class="g" x="1248.8" y="850.1" width="48.2" height="9.8"/>
<text class="t" x="1180.2" y="883.7">weight</text><text class="t" x="1221.4" y="886.5">208</text>
<text class="t" x="1283.6" y="877.6">output</text><text class="t" x="1294.5" y="894.1">208</text>
<text class="t" x="1276.1" y="905.3">4</text><rect class="o" x="1292" y="895.5" width="26.4" height="12"/>
<text class="t" x="1294.5" y="935">208</text>
<text class="t" x="1276" y="945.4">5</text><rect class="l" x="1292" y="937" width="26.4" height="10.6"/>
<text class="t" x="1262.7" y="961.3">input_curr_buffer</text>
<text class="t" x="1185.2" y="926.6">3200</text>
<rect class="b" x="1220" y="892.7" width="26.3" height="72.3"/>
<path class="sep" d="M1220,910.3H1246.3M1220,929.1H1246.3M1220,947.3H1246.3"/>
</g>
<g id="b-orig-core0">
<text class="c" x="1132" y="982.6">core 0</text>
<rect class="box" x="1131" y="990.7" width="115.3" height="149.9" rx="16"/>
<text class="t" x="1139.4" y="1007">input</text><text class="t" x="1162.8" y="1022.4">800</text>
<text class="t" x="1136.9" y="1037.8">4</text><rect class="g" x="1150.8" y="1029.4" width="48.3" height="10.6"/>
<text class="t" x="1206.5" y="1043.4">output</text><text class="t" x="1213" y="1057.4">208</text>
<text class="t" x="1145.4" y="1058.8">weight</text><text class="t" x="1161.8" y="1072.3">208</text>
<text class="t" x="1195.6" y="1070.9">4</text><rect class="o" x="1206.5" y="1061" width="30.9" height="12.6"/>
<text class="t" x="1133.4" y="1089">400</text><rect class="b" x="1157.8" y="1077.6" width="29.8" height="16.8"/>
<text class="t" x="1211.5" y="1097.2">208</text>
<text class="t" x="1195.6" y="1110">5</text><rect class="l" x="1208" y="1100.8" width="31.9" height="11.2"/>
<text class="t" x="1144.4" y="1128.8">input_curr_buffer</text>
</g>
<g id="b-orig-core17">
<text class="c" x="1259.7" y="983.2">core 1 - 7</text>
<rect class="box" x="1259.7" y="990.7" width="114.9" height="149.9" rx="16"/>
<text class="t" x="1276.1" y="1021">weight</text><text class="t" x="1317.4" y="1030.8">208</text>
<text class="t" x="1283.6" y="1049">400</text><rect class="b" x="1314.9" y="1035.5" width="32.3" height="16.9"/>
<text class="t" x="1278.6" y="1087.7">output</text><text class="t" x="1322.4" y="1095.2">208</text>
<text class="t" x="1301" y="1108.6">4</text><rect class="o" x="1315.9" y="1098.9" width="32.3" height="13.1"/>
<text class="x" x="1382" y="1069.2">x 7</text>
</g>

<!-- ============ B right: Echelon (MAC) ============ -->
<g id="b-ech-mac">
<text class="h" x="743.1" y="1187.7">Echelon (MAC)</text>
<text class="t" x="844.6" y="1203.1">input</text><text class="t" x="872.4" y="1214.3">3200</text>
<text class="t" x="844.6" y="1225.5">4</text><rect class="g" x="860" y="1221.3" width="58.1" height="12.1"/>
<text class="t" x="794.8" y="1246.5">weight</text><text class="t" x="836.1" y="1260.5">208</text>
<text class="t" x="898.3" y="1247.9">output</text><text class="t" x="911.7" y="1261.9">208</text>
<text class="t" x="895.8" y="1275.4">4</text><rect class="o" x="905.7" y="1265.3" width="23.9" height="12"/>
<text class="t" x="788.9" y="1299.8">3200</text>
<path class="b" d="M831.1,1263.3H858.5V1316.6H845.1V1308.2H836.1V1296.1H831.1Z"/>
<path class="dot" d="M852,1319.6H858.5"/>
<rect class="b" x="852" y="1322.7" width="6.5" height="7.9"/>
<text class="t" x="874.4" y="1294.7">reversed order</text><text class="t" x="905.7" y="1313.8">3200</text>
<text class="t" x="875.9" y="1323.6">1</text><rect class="y" x="890.8" y="1316.6" width="57.2" height="8.4"/>
<text class="t mid" x="918.2" y="1329.2">16bit</text>
</g>
<g id="b-ech-mac-core0">
<text class="c" x="746.6" y="1331.4">core 0</text><text class="c" x="746.6" y="1346.5">(dominant)</text>
<rect class="box" x="746.6" y="1351" width="114.4" height="150.4" rx="16"/>
<text class="t" x="760" y="1365.6">input</text><text class="t" x="787.9" y="1377.6">3200</text>
<text class="t" x="760" y="1389.4">4</text><rect class="g" x="775.5" y="1383.8" width="58.1" height="12.6"/>
<text class="t" x="760" y="1411.8">reversed order</text><text class="t" x="790.4" y="1424.4">3200</text>
<text class="t" x="760.5" y="1435.6">1</text><rect class="y" x="775.5" y="1428" width="58.1" height="8.4"/>
<text class="t mid" x="803.8" y="1439.8">16bit</text>
<text class="t" x="791.4" y="1460.3">output</text><text class="t" x="827.7" y="1472">208</text>
<text class="t" x="812.2" y="1485.5">4</text><rect class="o" x="822.2" y="1475.4" width="23.8" height="12"/>
</g>
<g id="b-ech-mac-core15">
<text class="c" x="873.4" y="1352.4">core 1 - 5</text><text class="c" x="873.4" y="1367.5">(subordinate)</text>
<rect class="box" x="874.4" y="1372.6" width="114.8" height="149.8" rx="16"/>
<text class="t" x="889.3" y="1406.8">weight</text>
<rect class="b" x="915.7" y="1419.6" width="18.4" height="21.1"/>
<path class="dot" d="M925,1444.8H934"/>
<rect class="b" x="929.1" y="1449" width="5" height="7.6"/>
<text class="t" x="908.2" y="1488">output</text><text class="t" x="922.1" y="1502.8">208</text>
<text class="t" x="906.7" y="1515.4">4</text><rect class="o" x="921.6" y="1506.2" width="26.4" height="12"/>
<text class="x" x="995.2" y="1446.8">x 5</text>
</g>

<!-- ============ B right: Echelon (MAC + ARM) ============ -->
<g id="b-ech-arm">
<text class="h" x="1128.5" y="1187.7">Echelon (MAC + ARM)</text>
<text class="t" x="1230.4" y="1204.5">input</text><text class="t" x="1258.7" y="1215.7">3200</text>
<text class="t" x="1231.4" y="1227.5">4</text><rect class="g" x="1247.3" y="1222.7" width="57.2" height="12.1"/>
<text class="t" x="1180.7" y="1247.9">weight</text><text class="t" x="1206.5" y="1263.3">192</text><text class="t" x="1236.4" y="1263.3">8</text>
<text class="t" x="1284.6" y="1247.9">output</text><text class="t" x="1298.5" y="1263.3">200</text>
<text class="t" x="1282.6" y="1276.5">4</text><rect class="o" x="1292.5" y="1266.7" width="24.4" height="12"/>
<text class="t" x="1172.7" y="1302.6">3200</text>
<path class="b" d="M1214,1266.2H1236.4V1297.5H1239.9V1318.8H1228.9V1310.4H1221.4V1297.5H1214Z"/>
<rect class="gr" x="1236.4" y="1266.2" width="3.5" height="31.3"/>
<path class="dot" d="M1233,1322.7H1239.9"/>
<rect class="b" x="1234.9" y="1325.5" width="5" height="7.9"/>
<text class="t" x="1262.7" y="1294.2">reversed order</text><text class="t" x="1293.5" y="1312.9">3200</text>
<text class="t" x="1262.7" y="1323.6">1</text><rect class="y" x="1279.6" y="1316" width="57.2" height="8.4"/>
<text class="t mid" x="1307" y="1328.3">16bit</text>
</g>
<g id="b-ech-arm-core0">
<text class="c" x="1133" y="1330.6">core 0</text><text class="c" x="1133" y="1346">(dominant)</text>
<rect class="box" x="1132" y="1351" width="115.3" height="149.9" rx="16"/>
<text class="t" x="1149.4" y="1360">input</text><text class="t" x="1178.2" y="1373.1">3200</text>
<text class="t" x="1150.3" y="1384.4">4</text><rect class="g" x="1165.8" y="1379.6" width="58.1" height="12"/>
<text class="t" x="1150.8" y="1417.4">reversed order</text><text class="t" x="1181.7" y="1430">3200</text>
<text class="t" x="1151.8" y="1441.2">1</text><rect class="y" x="1166.8" y="1433.4" width="58.1" height="8.4"/>
<text class="t mid" x="1195.6" y="1445.4">16bit</text>
<text class="t" x="1181.7" y="1467.8">output</text><text class="t" x="1216.5" y="1474.8">200</text>
<text class="t" x="1202.5" y="1488.8">4</text><rect class="o" x="1211.5" y="1478.5" width="23.9" height="12.3"/>
</g>
<g id="b-ech-arm-core15">
<text class="c" x="1259.7" y="1351.6">core 1 - 5</text><text class="c" x="1259.7" y="1367">(subordinate)</text>
<rect class="box" x="1260.2" y="1372" width="114.4" height="149.6" rx="16"/>
<text class="t" x="1271.2" y="1409">weight</text><text class="t" x="1350.7" y="1416">8</text>
<rect class="b" x="1282.6" y="1419.6" width="18.4" height="21.1"/>
<path class="dot" d="M1292.5,1444.8H1301"/>
<rect class="b" x="1296" y="1449" width="5" height="7.6"/>
<text class="t" x="1319.9" y="1438.4">125</text><rect class="gr" x="1352.2" y="1425.2" width="4.5" height="16"/>
<text class="t" x="1291" y="1483.2">output</text><text class="t" x="1306" y="1497.2">200</text>
<text class="t" x="1295" y="1509.8">4</text><rect class="o" x="1305" y="1500.9" width="23.3" height="12.3"/>
<text class="x" x="1381.6" y="1446.8">x 5</text>
</g>

</g>
</svg>
